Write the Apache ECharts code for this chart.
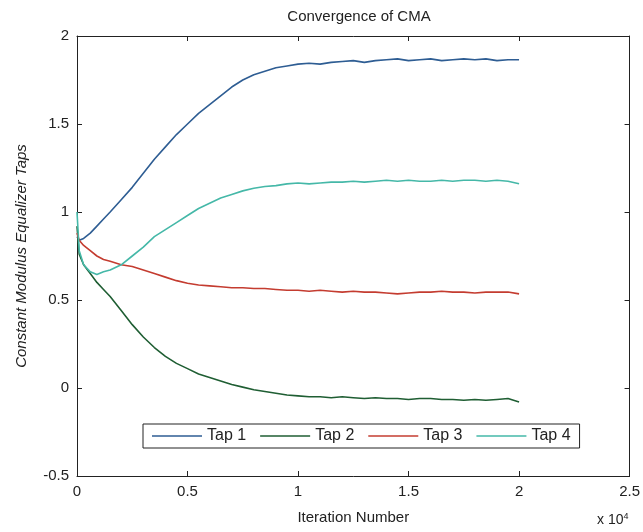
<!DOCTYPE html>
<html>
<head>
<meta charset="utf-8">
<script src="https://cdn.jsdelivr.net/npm/echarts@6/dist/echarts.min.js"></script>
<style>
html,body{margin:0;padding:0;background:#fff;}
#chart{width:643px;height:532px;}
</style>
</head>
<body>
<div id="chart"></div>
<script>
// Iteration numbers (x values)
const iterations = [0,100,300,600,900,1200,1500,
  2000,2500,3000,3500,4000,4500,5000,5500,6000,6500,7000,7500,8000,8500,9000,9500,
  10000,10500,11000,11500,12000,12500,13000,13500,14000,14500,15000,15500,16000,16500,
  17000,17500,18000,18500,19000,19500,20000];

const seriesNames = ['Tap 1','Tap 2','Tap 3','Tap 4'];

const tap1 = [0.86,0.84,0.85,0.88,0.92,0.96,1.00,
  1.07,1.14,1.22,1.30,1.37,1.44,1.50,1.56,1.61,1.66,1.71,1.75,1.78,1.80,1.82,1.83,
  1.84,1.845,1.84,1.85,1.855,1.86,1.85,1.86,1.865,1.87,1.86,1.865,1.87,1.86,
  1.865,1.87,1.865,1.87,1.86,1.865,1.865];

const tap2 = [0.92,0.76,0.70,0.65,0.60,0.56,0.52,
  0.44,0.36,0.29,0.23,0.18,0.14,0.11,0.08,0.06,0.04,0.02,0.005,-0.01,-0.02,-0.03,-0.04,
  -0.045,-0.05,-0.05,-0.055,-0.05,-0.055,-0.06,-0.055,-0.06,-0.06,-0.065,-0.06,-0.06,-0.065,
  -0.065,-0.07,-0.065,-0.07,-0.065,-0.06,-0.08];

const tap3 = [0.88,0.84,0.81,0.78,0.75,0.73,0.72,
  0.70,0.69,0.67,0.65,0.63,0.61,0.595,0.585,0.58,0.575,0.57,0.57,0.565,0.565,0.56,0.555,
  0.555,0.55,0.555,0.55,0.545,0.55,0.545,0.545,0.54,0.535,0.54,0.545,0.545,0.55,
  0.545,0.545,0.54,0.545,0.545,0.545,0.535];

const tap4 = [1.00,0.78,0.70,0.66,0.645,0.66,0.67,
  0.70,0.75,0.80,0.86,0.90,0.94,0.98,1.02,1.05,1.08,1.10,1.12,1.135,1.145,1.15,1.16,
  1.165,1.16,1.165,1.17,1.17,1.175,1.17,1.175,1.18,1.175,1.18,1.175,1.175,1.18,
  1.175,1.18,1.18,1.175,1.18,1.175,1.16];

const xTicks = [0, 5000, 10000, 15000, 20000, 25000];
const yTicks = [-0.5, 0, 0.5, 1, 1.5, 2];

const colors = ['#2e5d93', '#1f5e33', '#c43c30', '#45b8a8'];
const allData = [tap1, tap2, tap3, tap4];

const chart = echarts.init(document.getElementById('chart'), null, {renderer: 'canvas'});
const font = 'Liberation Sans, Arial, sans-serif';

const axisLineStyle = {show: true, onZero: false, lineStyle: {color: '#222', width: 1}};
const tickStyle = {show: true, inside: true, length: 5, lineStyle: {color: '#222'}};

const option = {
  backgroundColor: '#ffffff',
  animation: false,
  title: {
    text: 'Convergence of CMA',
    left: 354, top: 4, textAlign: 'center',
    textStyle: {fontFamily: font, fontSize: 15, fontWeight: 'normal', color: '#222'}
  },
  grid: {left: 77, right: 11, top: 36, bottom: 56, containLabel: false},
  legend: {
    data: seriesNames,
    left: 143, top: 424,
    orient: 'horizontal',
    icon: 'rect',
    itemWidth: 50, itemHeight: 1.5, itemGap: 14,
    padding: [4, 9],
    borderColor: '#222', borderWidth: 1, backgroundColor: '#fff',
    textStyle: {fontFamily: font, fontSize: 16, color: '#222'}
  },
  xAxis: [{
    type: 'value', min: 0, max: 25000, interval: 5000,
    name: 'Iteration Number', nameLocation: 'middle', nameGap: 34,
    nameTextStyle: {fontFamily: font, fontSize: 15, color: '#222'},
    axisLine: axisLineStyle,
    axisTick: tickStyle,
    axisLabel: {fontFamily: font, fontSize: 15, color: '#222', margin: 8,
      formatter: v => String(v / 10000)},
    splitLine: {show: false}
  }, {
    type: 'value', position: 'top', min: 0, max: 25000, interval: 5000,
    axisLine: axisLineStyle,
    axisTick: tickStyle,
    axisLabel: {show: false}, splitLine: {show: false}
  }],
  yAxis: [{
    type: 'value', position: 'left', min: -0.5, max: 2, interval: 0.5,
    name: 'Constant Modulus Equalizer Taps', nameLocation: 'middle', nameGap: 48,
    nameTextStyle: {fontFamily: font, fontSize: 15, fontStyle: 'italic', color: '#222'},
    axisLine: axisLineStyle,
    axisTick: tickStyle,
    axisLabel: {fontFamily: font, fontSize: 15, color: '#222', margin: 8},
    splitLine: {show: false}
  }, {
    type: 'value', position: 'right', min: -0.5, max: 2, interval: 0.5,
    axisLine: axisLineStyle,
    axisTick: tickStyle,
    axisLabel: {show: false}, splitLine: {show: false}
  }],
  graphic: [{
    type: 'text', left: 597, top: 512,
    style: {
      text: 'x 10{sup|4}',
      fontFamily: font, fontSize: 14, fill: '#222',
      rich: {sup: {fontSize: 9, verticalAlign: 'top', padding: [0, 0, 8, 0]}}
    }
  }],
  series: seriesNames.map((name, i) => ({
    name: name,
    type: 'line',
    xAxisIndex: 0, yAxisIndex: 0,
    showSymbol: false, symbol: 'none',
    lineStyle: {color: colors[i], width: 1.6},
    itemStyle: {color: colors[i]},
    data: iterations.map((x, k) => [x, allData[i][k]])
  }))
};
chart.setOption(option);
</script>
</body>
</html>
